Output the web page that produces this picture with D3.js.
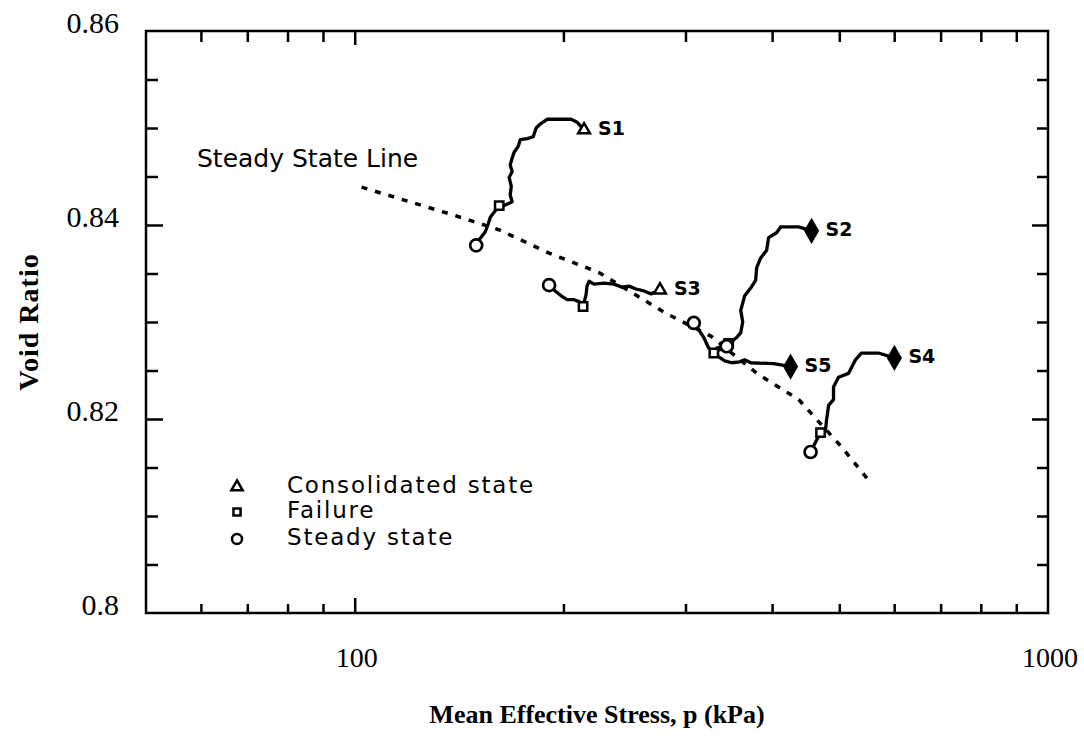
<!DOCTYPE html>
<html>
<head>
<meta charset="utf-8">
<script src="https://cdn.jsdelivr.net/npm/d3@7"></script>
<style>
  body { margin: 0; background: #fff; }
  text { fill: #000; }
</style>
</head>
<body>
<svg id="chart" width="1084" height="745"></svg>
<script>
// ---- data -------------------------------------------------------------
// Steady state line (p in kPa, void ratio)
const sslP = [102.3, 139.2, 161.6, 190.7, 225.0, 281.0, 327.0, 382.0, 437.0, 504.0, 551.0];
const sslE = [0.8439, 0.8410, 0.8395, 0.8371, 0.8351, 0.8309, 0.8285, 0.8246, 0.8220, 0.8171, 0.8137];

// Stress paths of the five tests, from consolidation to steady state
const s1P = [214.2, 209.3, 205.2, 189.5, 185.1, 182.7, 180.9, 177.3, 173.3, 172.1, 169.8, 168.7, 167.6,
             168.7, 167.0, 168.2, 167.6, 168.7, 164.3, 161.6, 160.0, 156.9, 155.8, 154.3, 151.3, 149.7];
const s1E = [0.8498, 0.8506, 0.8509, 0.8509, 0.8504, 0.8500, 0.8491, 0.8489, 0.8488, 0.8481, 0.8475, 0.8469, 0.8462,
             0.8455, 0.8449, 0.8440, 0.8431, 0.8424, 0.8420, 0.8420, 0.8416, 0.8408, 0.8401, 0.8393, 0.8385, 0.8379];

const s2P = [456.0, 436.8, 411.5, 406.0, 395.4, 392.8, 385.1, 380.0, 378.7, 372.5, 365.2, 360.4, 362.8,
             360.4, 355.6, 346.3, 339.5, 330.6, 324.1, 318.8, 313.5, 308.4];
const s2E = [0.8394, 0.8398, 0.8398, 0.8392, 0.8387, 0.8374, 0.8366, 0.8356, 0.8343, 0.8335, 0.8327, 0.8312, 0.8300,
             0.8289, 0.8284, 0.8278, 0.8273, 0.8269, 0.8273, 0.8284, 0.8292, 0.8299];

const s3P = [275.6, 267.5, 261.3, 254.5, 248.7, 242.9, 236.6, 228.9, 221.4, 217.8, 216.3, 215.6, 213.5,
             210.7, 207.2, 202.5, 198.5, 194.6, 190.7];
const s3E = [0.8333, 0.8329, 0.8332, 0.8334, 0.8337, 0.8336, 0.8339, 0.8340, 0.8339, 0.8342, 0.8337, 0.8328, 0.8316,
             0.8321, 0.8323, 0.8323, 0.8327, 0.8332, 0.8338];

const s4P = [600.4, 569.4, 538.1, 527.6, 515.5, 498.7, 490.5, 490.5, 482.5, 479.3, 477.7, 469.8, 463.6, 454.5];
const s4E = [0.8263, 0.8268, 0.8268, 0.8261, 0.8247, 0.8243, 0.8233, 0.8220, 0.8214, 0.8199, 0.8189, 0.8186, 0.8178, 0.8166];

const s5P = [425.3, 402.1, 372.5, 365.2, 359.2, 349.8, 341.8, 335.1, 329.6, 332.8, 339.5, 344.0];
const s5E = [0.8254, 0.8257, 0.8258, 0.8261, 0.8259, 0.8258, 0.8260, 0.8264, 0.8268, 0.8273, 0.8275, 0.8275];

const testNames = ["S1", "S2", "S3", "S4", "S5"];
const pathP = [s1P, s2P, s3P, s4P, s5P];
const pathE = [s1E, s2E, s3E, s4E, s5E];

// Characteristic states of each test
const consolP = [214.2, 456.0, 275.6, 600.4, 425.3];
const consolE = [0.8498, 0.8394, 0.8333, 0.8263, 0.8254];
const failP = [161.6, 346.3, 213.5, 469.8, 329.6];
const failE = [0.8420, 0.8278, 0.8316, 0.8186, 0.8268];
const steadyP = [149.7, 308.4, 190.7, 454.5, 344.0];
const steadyE = [0.8379, 0.8299, 0.8338, 0.8166, 0.8275];

// Axes
const xDomain = [50, 1000];
const yDomain = [0.80, 0.86];
const xMinorTicks = [60, 70, 80, 90, 200, 300, 400, 500, 600, 700, 800, 900];
const xLabelTicks = [100, 1000];
const yMinorTicks = [0.805, 0.81, 0.815, 0.825, 0.83, 0.835, 0.845, 0.85, 0.855];
const yLabelTicks = [0.80, 0.82, 0.84, 0.86];

const legendLabels = ["Consolidated state", "Failure", "Steady state"];

// ---- layout -----------------------------------------------------------
const plot = { left: 146, right: 1048, top: 31, bottom: 613 };
const svg = d3.select("#chart");

const x = d3.scaleLog().domain(xDomain).range([plot.left, plot.right]);
const y = d3.scaleLinear().domain(yDomain).range([plot.bottom, plot.top]);

const serif = "'Liberation Serif', 'Times New Roman', serif";
const sans = "'DejaVu Sans', sans-serif";

// frame
svg.append("rect")
  .attr("x", plot.left).attr("y", plot.top)
  .attr("width", plot.right - plot.left).attr("height", plot.bottom - plot.top)
  .attr("fill", "none").attr("stroke", "#000").attr("stroke-width", 2.5);

// ticks drawn inward on all four sides
function tickLines(g, axisGen, len) {
  g.call(axisGen.tickSize(len).tickFormat(""));
  g.select(".domain").remove();
  g.selectAll(".tick line").attr("stroke", "#000").attr("stroke-width", 2.5);
}

const bottomG = svg.append("g").attr("transform", `translate(0,${plot.bottom})`);
tickLines(bottomG.append("g"), d3.axisTop(x).tickValues(xMinorTicks), 9);
tickLines(bottomG.append("g"), d3.axisTop(x).tickValues([100]), 15);

const topG = svg.append("g").attr("transform", `translate(0,${plot.top})`);
tickLines(topG.append("g"), d3.axisBottom(x).tickValues(xMinorTicks), 11);
tickLines(topG.append("g"), d3.axisBottom(x).tickValues([100]), 14);

const leftG = svg.append("g").attr("transform", `translate(${plot.left},0)`);
tickLines(leftG.append("g"), d3.axisRight(y).tickValues(yMinorTicks), 12);
tickLines(leftG.append("g"), d3.axisRight(y).tickValues([0.82, 0.84]), 17);

const rightG = svg.append("g").attr("transform", `translate(${plot.right},0)`);
tickLines(rightG.append("g"), d3.axisLeft(y).tickValues(yMinorTicks), 11);
tickLines(rightG.append("g"), d3.axisLeft(y).tickValues([0.82, 0.84]), 16);

// tick labels
svg.append("g").selectAll("text").data(yLabelTicks).join("text")
  .attr("x", 119).attr("y", d => y(d) - 5)
  .attr("text-anchor", "end").attr("dominant-baseline", "middle")
  .style("font-family", serif).style("font-size", "30px")
  .text(d => d3.format(".2~f")(d));

svg.append("g").selectAll("text").data(xLabelTicks).join("text")
  .attr("x", d => x(d) + 2).attr("y", 667)
  .attr("text-anchor", "middle")
  .style("font-family", serif).style("font-size", "28px")
  .text(d => d);

// axis titles
svg.append("text")
  .attr("x", (plot.left + plot.right) / 2).attr("y", 723)
  .attr("text-anchor", "middle")
  .style("font-family", serif).style("font-size", "26px").style("font-weight", "bold")
  .text("Mean Effective Stress, p (kPa)");

svg.append("text")
  .attr("transform", `translate(38,${(plot.top + plot.bottom) / 2}) rotate(-90)`)
  .attr("text-anchor", "middle")
  .style("font-family", serif).style("font-size", "28px").style("font-weight", "bold")
  .style("letter-spacing", "1px")
  .text("Void Ratio");

// steady state line
const line = d3.line().x(d => x(d[0])).y(d => y(d[1]));
svg.append("path")
  .datum(d3.zip(sslP, sslE))
  .attr("d", line)
  .attr("fill", "none").attr("stroke", "#000")
  .attr("stroke-width", 3.5).attr("stroke-dasharray", "6 8");

svg.append("text")
  .attr("x", 197).attr("y", 167)
  .style("font-family", sans).style("font-size", "25px")
  .text("Steady State Line");

// stress paths
svg.append("g").selectAll("path").data(testNames).join("path")
  .attr("d", (d, i) => line(d3.zip(pathP[i], pathE[i])))
  .attr("fill", "none").attr("stroke", "#000")
  .attr("stroke-width", 3.3).attr("stroke-linejoin", "round").attr("stroke-linecap", "round");

// markers
const filledStart = new Set(["S2", "S4", "S5"]);
const tri = d3.symbol().type(d3.symbolTriangle).size(60);
const diamond = d3.symbol().type(d3.symbolDiamond).size(130);
const square = d3.symbol().type(d3.symbolSquare).size(70);

svg.append("g").selectAll("path").data(testNames).join("path")
  .attr("transform", (d, i) => `translate(${x(consolP[i])},${y(consolE[i])})`)
  .attr("d", d => filledStart.has(d) ? diamond() : tri())
  .attr("fill", d => filledStart.has(d) ? "#000" : "#fff")
  .attr("stroke", "#000").attr("stroke-width", 2.5);

svg.append("g").selectAll("path").data(testNames).join("path")
  .attr("transform", (d, i) => `translate(${x(failP[i])},${y(failE[i])})`)
  .attr("d", square())
  .attr("fill", "#fff").attr("stroke", "#000").attr("stroke-width", 2.5);

svg.append("g").selectAll("circle").data(testNames).join("circle")
  .attr("cx", (d, i) => x(steadyP[i])).attr("cy", (d, i) => y(steadyE[i]))
  .attr("r", 6)
  .attr("fill", "#fff").attr("stroke", "#000").attr("stroke-width", 2.7);

// test labels
svg.append("g").selectAll("text").data(testNames).join("text")
  .attr("x", (d, i) => x(consolP[i]) + 14).attr("y", (d, i) => y(consolE[i]) + 5)
  .style("font-family", sans).style("font-size", "19px").style("font-weight", "bold")
  .text(d => d);

// legend
const legend = svg.append("g").attr("transform", "translate(237,0)");
const legendY = [493, 518, 545];
legend.append("path").attr("transform", `translate(0,${legendY[0] - 6})`)
  .attr("d", d3.symbol().type(d3.symbolTriangle).size(55)())
  .attr("fill", "#fff").attr("stroke", "#000").attr("stroke-width", 2.5);
legend.append("path").attr("transform", `translate(0,${legendY[1] - 6})`)
  .attr("d", d3.symbol().type(d3.symbolSquare).size(50)())
  .attr("fill", "#fff").attr("stroke", "#000").attr("stroke-width", 2.5);
legend.append("circle").attr("cx", 0).attr("cy", legendY[2] - 6).attr("r", 5)
  .attr("fill", "#fff").attr("stroke", "#000").attr("stroke-width", 2.5);
legend.selectAll("text").data(legendLabels).join("text")
  .attr("x", 50).attr("y", (d, i) => legendY[i])
  .style("font-family", sans).style("font-size", "23px")
  .style("letter-spacing", "1.8px")
  .text(d => d);
</script>
</body>
</html>
